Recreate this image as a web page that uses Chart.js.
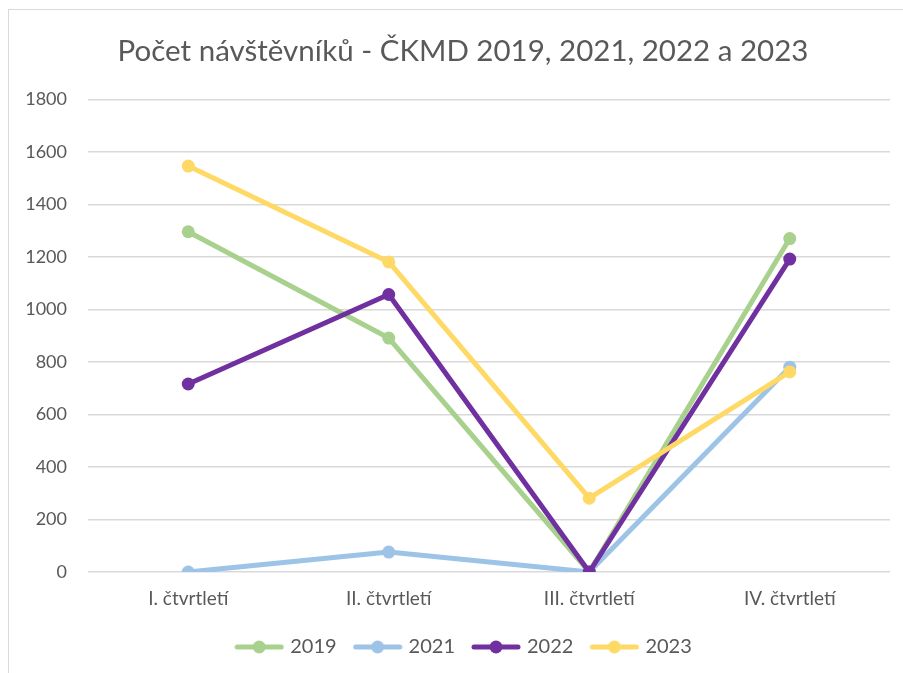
<!DOCTYPE html>
<html>
<head>
<meta charset="utf-8">
<script src="https://cdn.jsdelivr.net/npm/chart.js@4"></script>
<style>
html,body{margin:0;padding:0;background:#fff;}
#frame{position:absolute;left:8px;top:9px;width:1000px;height:1000px;border:1px solid #d9d9d9;box-sizing:border-box;}
#wrap{position:absolute;left:0;top:0;width:903px;height:673px;}
</style>
</head>
<body>
<div id="frame"></div>
<div id="wrap"><canvas id="c" width="903" height="673"></canvas></div>
<script>
const categories = ['I. čtvrtletí', 'II. čtvrtletí', 'III. čtvrtletí', 'IV. čtvrtletí'];
const seriesNames = ['2019', '2021', '2022', '2023'];
const values2019 = [1296, 891, 0, 1270];
const values2021 = [0, 76, 0, 780];
const values2022 = [716, 1057, 0, 1192];
const values2023 = [1546, 1181, 281, 762];
const yTicks = [0, 200, 400, 600, 800, 1000, 1200, 1400, 1600, 1800];
const colors = ['#A9D18E', '#9DC3E6', '#7030A0', '#FFD966'];
const allValues = [values2019, values2021, values2022, values2023];

const FONT = 'Lato, "Open Sans", sans-serif';
const TXT = '#595959';

function legendImg(color) {
  const cv = document.createElement('canvas');
  cv.width = 50; cv.height = 14;
  const x = cv.getContext('2d');
  x.strokeStyle = color; x.lineWidth = 5; x.lineCap = 'round';
  x.beginPath(); x.moveTo(3, 7); x.lineTo(47, 7); x.stroke();
  x.fillStyle = color;
  x.beginPath(); x.arc(25, 7, 6.5, 0, Math.PI * 2); x.fill();
  return cv;
}

const datasets = seriesNames.map((n, i) => ({
  label: n,
  data: allValues[i],
  order: seriesNames.length - i,
  borderColor: colors[i],
  backgroundColor: colors[i],
  borderWidth: 5,
  borderJoinStyle: 'round',
  borderCapStyle: 'round',
  pointRadius: 6.5,
  pointHoverRadius: 6.5,
  pointBackgroundColor: colors[i],
  pointBorderWidth: 0,
  tension: 0,
  pointStyle: 'circle',
  _img: legendImg(colors[i])
}));

const shiftBoxes = {
  id: 'shiftBoxes',
  afterLayout(chart) {
    if (chart.legend) { chart.legend.left += 20; chart.legend.right += 20; }
    if (chart.titleBlock) { chart.titleBlock.left += 18; chart.titleBlock.right += 18; }
  }
};

new Chart(document.getElementById('c'), {
  type: 'line',
  data: { labels: categories, datasets },
  plugins: [shiftBoxes],
  options: {
    responsive: false,
    animation: false,
    layout: { padding: { top: 34, right: 13, bottom: 6, left: 0 } },
    plugins: {
      tooltip: { enabled: false },
      title: {
        display: true,
        text: 'Počet návštěvníků - ČKMD 2019, 2021, 2022 a 2023',
        color: TXT,
        font: { family: FONT, size: 29.5, weight: 'normal' },
        padding: { top: 0, bottom: 30 }
      },
      legend: {
        position: 'bottom',
        labels: {
          color: TXT,
          font: { family: FONT, size: 20 },
          usePointStyle: true,
          pointStyleWidth: 42,
          boxHeight: 14,
          padding: 20,
          generateLabels: (chart) => chart.data.datasets.map((d, i) => ({
            text: d.label,
            fontColor: TXT,
            pointStyle: d._img,
            fillStyle: d.borderColor,
            strokeStyle: d.borderColor,
            lineWidth: 0,
            hidden: false,
            datasetIndex: i
          }))
        }
      }
    },
    scales: {
      x: {
        offset: true,
        grid: { display: false, drawTicks: false },
        border: { display: false },
        ticks: { color: TXT, font: { family: FONT, size: 19 }, padding: 15 },
        afterFit: (s) => { s.height = 45; }
      },
      y: {
        min: 0, max: 1800,
        afterBuildTicks: (s) => { s.ticks = yTicks.map(v => ({ value: v })); },
        grid: { color: '#d9d9d9', lineWidth: 1.5, drawTicks: false },
        border: { display: false },
        ticks: { color: TXT, font: { family: FONT, size: 18 }, padding: 21, callback: (v) => String(v) },
        afterFit: (s) => { s.width = 88; }
      }
    }
  }
});
</script>
</body>
</html>
